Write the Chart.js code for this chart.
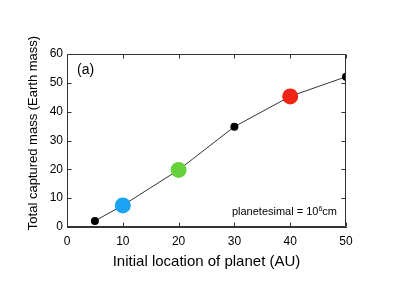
<!DOCTYPE html>
<html>
<head>
<meta charset="utf-8">
<script src="https://cdn.jsdelivr.net/npm/chart.js@4"></script>
<style>
  html, body { margin: 0; padding: 0; background: #fff; }
  #wrap { width: 407px; height: 288px; }
</style>
</head>
<body>
<div id="wrap"><canvas id="chart-mass"></canvas></div>
<script>
// planet location (AU) vs total captured mass (Earth mass)
var locations = [5, 10, 20, 30, 40, 50];
var capturedMass = [2.1, 7.5, 19.8, 34.8, 45.3, 52.1];
var pointColors = ['#000000', '#1aa3f2', '#66d13b', '#000000', '#ee2414', '#000000'];
var pointSizes = [4, 8, 8, 4, 8, 4];
var xTicks = [0, 10, 20, 30, 40, 50];
var yTicks = [0, 10, 20, 30, 40, 50, 60];

var FONT = '"Liberation Sans", Arial, Helvetica, sans-serif';

// box, inward tick marks on all four sides + text labels
var frame = {
    id: 'frame',
    afterDraw: function (chart) {
        var c = chart.ctx, a = chart.chartArea;
        var xs = chart.scales.x, ys = chart.scales.y;
        c.save();
        c.strokeStyle = '#333';
        c.lineWidth = 1;
        var L = Math.round(a.left) + 0.5, R = Math.round(a.right) - 0.5;
        var T = Math.round(a.top) + 0.5, B = Math.round(a.bottom) - 0.5;
        c.strokeRect(L, T, R - L, B - T);
        c.beginPath();
        xTicks.forEach(function (v) {
            var px = Math.round(xs.getPixelForValue(v)) + 0.5;
            c.moveTo(px, B); c.lineTo(px, B - 4);
            c.moveTo(px, T); c.lineTo(px, T + 4);
        });
        yTicks.forEach(function (v) {
            var py = Math.round(ys.getPixelForValue(v)) + 0.5;
            c.moveTo(L, py); c.lineTo(L + 4, py);
            c.moveTo(R, py); c.lineTo(R - 4, py);
        });
        c.stroke();

        c.fillStyle = '#000';
        c.font = '14px ' + FONT;
        c.textBaseline = 'middle';
        c.textAlign = 'left';
        c.fillText('(a)', a.left + 10, a.top + 16);

        // y axis title
        c.save();
        c.translate(33, 133);
        c.rotate(-Math.PI / 2);
        c.textAlign = 'center';
        c.font = '13px ' + FONT;
        c.fillText('Total captured mass (Earth mass)', 0, 0);
        c.restore();

        // planetesimal = 10^6 cm
        var right = a.right - 9, base = a.bottom - 12;
        c.textBaseline = 'alphabetic';
        c.font = '11px ' + FONT;
        var w1 = c.measureText('planetesimal = 10').width;
        var w3 = c.measureText('cm').width;
        c.font = '7px ' + FONT;
        var w2 = c.measureText('6').width;
        var x0 = right - w1 - w2 - w3;
        c.font = '11px ' + FONT;
        c.fillText('planetesimal = 10', x0, base);
        c.fillText('cm', x0 + w1 + w2, base);
        c.font = '7px ' + FONT;
        c.fillText('6', x0 + w1, base - 4);
        c.restore();
    }
};

var ctx = document.getElementById('chart-mass').getContext('2d');
var chart = new Chart(ctx, {
    type: 'line',
    data: {
        datasets: [{
            data: locations.map(function (x, i) { return { x: x, y: capturedMass[i] }; }),
            borderColor: '#333',
            borderWidth: 1,
            pointBackgroundColor: pointColors,
            pointBorderColor: pointColors,
            pointRadius: pointSizes,
            pointBorderWidth: 0,
            tension: 0
        }]
    },
    options: {
        responsive: true,
        maintainAspectRatio: false,
        animation: false,
        devicePixelRatio: 1,
        layout: { padding: { left: 0, right: 61, top: 54, bottom: 13 } },
        plugins: { legend: { display: false }, tooltip: { enabled: false } },
        scales: {
            x: {
                type: 'linear',
                min: 0, max: 50,
                afterBuildTicks: function (s) { s.ticks = xTicks.map(function (v) { return { value: v }; }); },
                afterFit: function (s) { s.height = 48; },
                grid: { display: false, drawTicks: false },
                border: { display: true, color: '#333', width: 1 },
                ticks: { color: '#000', font: { family: FONT, size: 12 }, padding: 7, maxRotation: 0 },
                title: { display: true, text: 'Initial location of planet (AU)', color: '#000', font: { family: FONT, size: 15 }, padding: 4 }
            },
            y: {
                type: 'linear',
                min: 0, max: 60,
                afterBuildTicks: function (s) { s.ticks = yTicks.map(function (v) { return { value: v }; }); },
                afterFit: function (s) { s.width = 67; },
                grid: { display: false, drawTicks: false },
                border: { display: true, color: '#333', width: 1 },
                ticks: { color: '#000', font: { family: FONT, size: 12 }, padding: 4 }
            }
        }
    },
    plugins: [frame]
});
</script>
</body>
</html>
